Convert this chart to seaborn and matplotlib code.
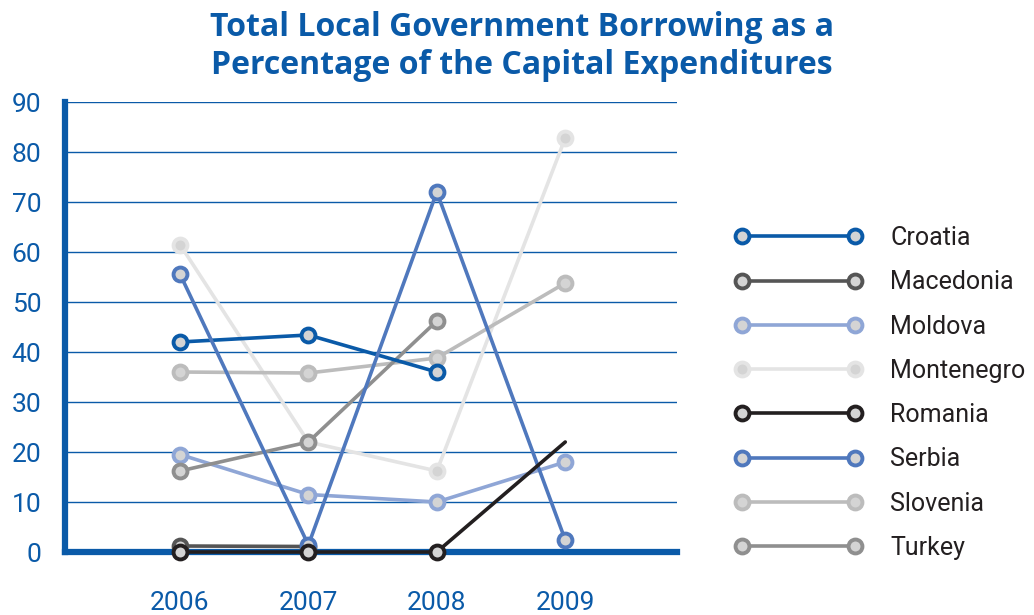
import numpy as np
import pandas as pd
import matplotlib
matplotlib.use("Agg")
import matplotlib.pyplot as plt
from matplotlib.lines import Line2D
import seaborn as sns

years = ["2006", "2007", "2008", "2009"]
countries = ["Croatia", "Macedonia", "Moldova", "Montenegro", "Romania", "Serbia", "Slovenia", "Turkey"]
croatia = [42.0, 43.4, 36.0, np.nan]
macedonia = [1.2, 1.1, np.nan, np.nan]
moldova = [19.5, 11.5, 10.0, 18.0]
montenegro = [61.5, 22.0, 16.2, 82.8]
romania = [0.0, 0.0, 0.0, 22.0]
serbia = [55.6, 1.4, 72.0, 2.4]
slovenia = [36.0, 35.8, 38.8, 53.8]
turkey = [16.2, 22.0, 46.2, np.nan]
colors = ["#0a5aa8", "#555555", "#8fa6d6", "#e4e4e4", "#231f20", "#4f78bd", "#bcbcbc", "#8f8f8f"]
yticks = [0, 10, 20, 30, 40, 50, 60, 70, 80, 90]

series = [croatia, macedonia, moldova, montenegro, romania, serbia, slovenia, turkey]

rows = []
for c, vals in zip(countries, series):
    for i, v in enumerate(vals):
        if not np.isnan(v):
            rows.append({"country": c, "x": i, "value": v})
df = pd.DataFrame(rows)

sns.set_theme(style="white")
plt.rcParams["font.family"] = ["Roboto", "DejaVu Sans"]

fig = plt.figure(figsize=(10.34, 6.15), dpi=100)
ax = fig.add_axes([65 / 1034, 1 - 552 / 615, (677 - 65) / 1034, (552 - 102) / 615])

blue = "#0a5aa8"
for y in yticks[1:]:
    ax.axhline(y, color=blue, lw=1.0, zorder=0)

draw_order = ["Montenegro", "Slovenia", "Moldova", "Turkey", "Macedonia", "Croatia", "Serbia", "Romania"]
for c in draw_order:
    i = countries.index(c)
    sub = df[df.country == c]
    kw = {}
    if c == "Romania":
        kw["markevery"] = [0, 1, 2]
    sns.lineplot(data=sub, x="x", y="value", ax=ax, color=colors[i], lw=2.6,
                 marker="o", markersize=10, markeredgewidth=2.8,
                 markeredgecolor=colors[i], markerfacecolor="#d4d4d4",
                 clip_on=False, zorder=3, **kw)

ax.set_xlim(-0.895, 3.87)
ax.set_ylim(0, 90)
ax.set_xticks(range(len(years)))
ax.set_xticklabels(years)
ax.set_yticks(yticks)
ax.set_xlabel("")
ax.set_ylabel("")
ax.tick_params(axis="both", length=0, labelsize=19, labelcolor=blue)
ax.tick_params(axis="y", pad=17)
ax.tick_params(axis="x", pad=28)
for s in ["top", "right"]:
    ax.spines[s].set_visible(False)
ax.spines["left"].set_color(blue)
ax.spines["left"].set_linewidth(4.5)
ax.spines["bottom"].set_color(blue)
ax.spines["bottom"].set_linewidth(4.5)
ax.spines["bottom"].set_zorder(2)

handles = [Line2D([0], [0], color=colors[i], lw=2.6, marker="o", markersize=10,
                  markeredgewidth=2.8, markeredgecolor=colors[i], markerfacecolor="#d4d4d4")
           for i in range(len(countries))]
leg = fig.legend(handles, countries, loc="center left", bbox_to_anchor=(712 / 1034, 1 - 393 / 615),
                 frameon=False, numpoints=2, handlelength=5.1, handletextpad=1.12,
                 labelspacing=0.81, fontsize=18)
for t in leg.get_texts():
    t.set_color("#231f20")

fig.text(0.5 + 0.005, 1 - 11 / 615, "Total Local Government Borrowing as a\nPercentage of the Capital Expenditures",
         ha="center", va="top", fontsize=23, fontweight="bold", color=blue, linespacing=1.2,
         family=["Open Sans", "DejaVu Sans"])

fig.savefig("out.png", dpi=100)
